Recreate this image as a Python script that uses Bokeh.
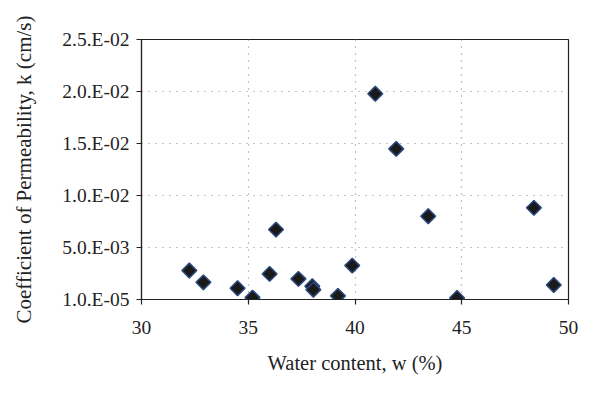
from bokeh.plotting import figure
from bokeh.models import ColumnDataSource, Range1d, FixedTicker
from bokeh.embed import file_html
from bokeh.resources import INLINE

# Data
water_content = [32.24, 32.9, 34.5, 35.2, 36.0, 36.3, 37.35, 38.0, 38.05, 39.2, 39.87,
                 40.95, 41.93, 43.43, 44.78, 48.38, 49.31]
permeability = [0.00279, 0.00166, 0.00109, 0.00019, 0.00247, 0.00673, 0.00199, 0.00128, 0.00095,
                0.00036, 0.00327, 0.01978, 0.01449, 0.00801, 0.00016, 0.00882, 0.00141]

x_ticks = [30, 35, 40, 45, 50]
y_ticks = [1e-05, 0.005, 0.01, 0.015, 0.02, 0.025]
y_tick_labels = ["1.0.E-05", "5.0.E-03", "1.0.E-02", "1.5.E-02", "2.0.E-02", "2.5.E-02"]

FONT = "Liberation Serif"

p = figure(width=600, height=396, output_backend="svg", toolbar_location=None,
           x_range=Range1d(30, 50), y_range=Range1d(1e-05, 0.025),
           min_border_left=141, min_border_right=32, min_border_top=39, min_border_bottom=97)

p.outline_line_color = "#222222"
p.outline_line_width = 1.2

src = ColumnDataSource(dict(x=water_content, y=permeability))
p.scatter("x", "y", source=src, marker="square", angle=0.785398, size=10.5,
          fill_color="#1a1a1a", line_color="#2b4a80", line_width=1.5)

for ax in (p.xaxis[0], p.yaxis[0]):
    ax.axis_line_color = "#222222"
    ax.axis_line_width = 1.2
    ax.major_tick_line_color = "#222222"
    ax.major_tick_line_width = 1.2
    ax.major_tick_in = 0
    ax.major_tick_out = 5
    ax.minor_tick_line_color = None
    ax.major_label_text_font = FONT
    ax.major_label_text_font_size = "19.5px"
    ax.major_label_text_color = "#222222"
    ax.axis_label_text_font = FONT
    ax.axis_label_text_font_style = "normal"
    ax.axis_label_text_color = "#222222"

p.xaxis.axis_label_text_font_size = "20.5px"
p.yaxis.axis_label_text_font_size = "21px"
p.xaxis.ticker = FixedTicker(ticks=x_ticks)
p.yaxis.ticker = FixedTicker(ticks=y_ticks)
p.yaxis.major_label_overrides = {t: l for t, l in zip(y_ticks, y_tick_labels)}
p.xaxis.axis_label = "Water content, w (%)"
p.yaxis.axis_label = "Coefficient of Permeability, k (cm/s)"
p.xaxis.major_label_standoff = 16
p.yaxis.major_label_standoff = 7
p.xaxis.axis_label_standoff = 15
p.yaxis.axis_label_standoff = 23

p.xgrid.grid_line_color = "#888888"
p.xgrid.grid_line_dash = "1 6"
p.xgrid.grid_line_width = 1.2
p.ygrid.grid_line_color = "#888888"
p.ygrid.grid_line_dash = "1 6"
p.ygrid.grid_line_width = 1.2

open("out.html", "w").write(file_html(p, INLINE))
